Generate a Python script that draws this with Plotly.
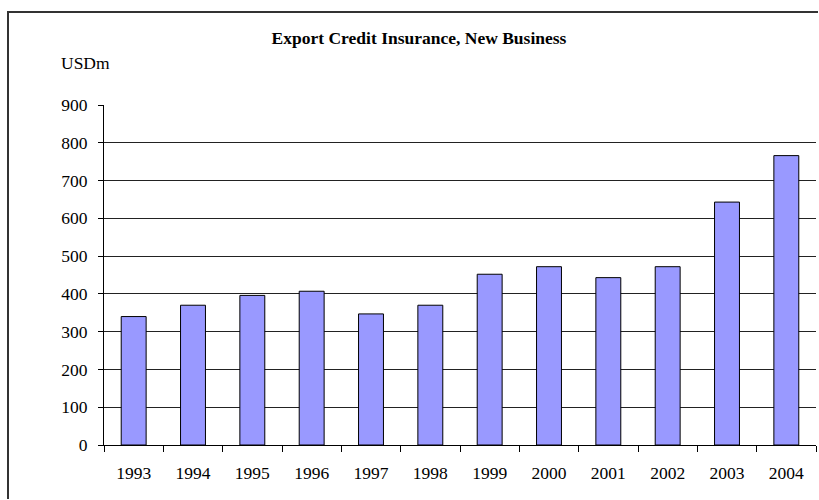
import plotly.graph_objects as go

# Export credit insurance, new business volume (USD millions)
years = ["1993", "1994", "1995", "1996", "1997", "1998",
         "1999", "2000", "2001", "2002", "2003", "2004"]
new_business = [340, 370, 396, 407, 347, 370, 452, 472, 443, 472, 643, 766]

y_ticks = [0, 100, 200, 300, 400, 500, 600, 700, 800, 900]
grid_values = [100, 200, 300, 400, 500, 600, 700, 800]

W, H = 819, 500
ML, MR, MT, MB = 104, 3, 105, 55
PW, PH = W - ML - MR, H - MT - MB

FONT = "Liberation Serif, Times New Roman, serif"
FS = 17.5


def px_x(px):
    """Page pixel column -> paper x fraction."""
    return (px - ML) / PW


def px_y(py):
    """Page pixel row -> paper y fraction."""
    return 1 + (MT - py) / PH


fig = go.Figure(
    go.Bar(
        x=years,
        y=new_business,
        width=0.42,
        marker=dict(color="#9999FF", line=dict(color="#000000", width=1)),
        hoverinfo="x+y",
    )
)

# chart frame: left side and top side (the rest runs past the page edge)
frame_path = "M {x0} {y0} L {x0} {y1} L {x1} {y1}".format(
    x0=px_x(8), y0=px_y(499), y1=px_y(12), x1=px_x(818)
)

fig.update_layout(
    width=W,
    height=H,
    margin=dict(l=ML, r=MR, t=MT, b=MB),
    paper_bgcolor="white",
    plot_bgcolor="white",
    showlegend=False,
    font=dict(family=FONT, size=FS, color="#000000"),
    title=dict(
        text="<b>Export Credit Insurance, New Business</b>",
        x=419 / W,
        xanchor="center",
        y=1 - 38 / H,
        yanchor="middle",
        font=dict(family=FONT, size=FS, color="#000000"),
    ),
    xaxis=dict(
        type="category",
        showline=True,
        linecolor="#000000",
        linewidth=1,
        ticks="outside",
        tickson="boundaries",
        ticklen=6,
        tickcolor="#000000",
        showgrid=False,
        tickfont=dict(family=FONT, size=FS),
        ticklabelstandoff=12,
    ),
    yaxis=dict(
        range=[0, 900],
        tickvals=y_ticks,
        showline=True,
        linecolor="#000000",
        linewidth=1,
        ticks="outside",
        ticklen=5,
        tickcolor="#000000",
        showgrid=False,
        zeroline=False,
        tickfont=dict(family=FONT, size=FS),
        ticklabelstandoff=7,
        minor=dict(
            tickvals=grid_values,
            showgrid=True,
            gridcolor="#222222",
            gridwidth=1,
            ticks="",
        ),
    ),
    annotations=[
        dict(
            text="USDm",
            xref="paper",
            yref="paper",
            x=px_x(59),
            y=px_y(63),
            xanchor="left",
            yanchor="middle",
            showarrow=False,
            font=dict(family=FONT, size=FS, color="#000000"),
        )
    ],
    shapes=[
        dict(type="path", xref="paper", yref="paper", path=frame_path,
             line=dict(color="#333333", width=2), layer="below"),
    ],
)

fig.write_html("out.html", config={"displayModeBar": False})
